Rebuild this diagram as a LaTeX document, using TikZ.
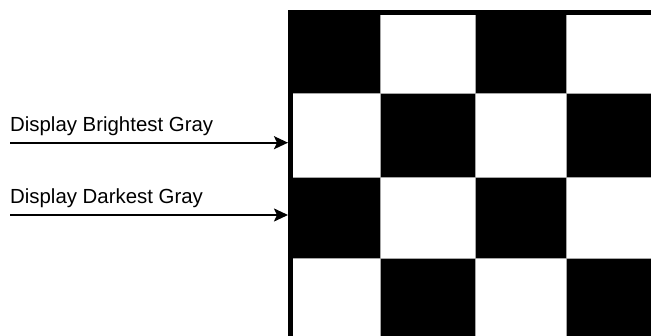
\documentclass[tikz,border=0pt]{standalone}
\usepackage{fontspec}
\setmainfont{Liberation Sans}
\usetikzlibrary{arrows.meta}

\begin{document}
\begin{tikzpicture}[x=1pt, y=-1pt,
  note/.style={anchor=base west, inner sep=0pt, font=\fontsize{20.4}{24}\selectfont},
  pointer/.style={line width=2pt, -{Stealth[length=14pt, width=13pt, inset=3pt]}},
  cell/.style={draw=gray!70, line width=0.8pt}]

\useasboundingbox (0,0) rectangle (651,336);

\begin{scope}
\clip (0,0) rectangle (651,336);
\foreach \i/\ya/\yb in {0/10/93, 1/93/177, 2/177/258, 3/258/345} {
  \foreach \j/\xa/\xb in {0/288/380, 1/380/475, 2/475/566, 3/566/660} {
    \pgfmathtruncatemacro\cellpar{mod(\i+\j,2)}
    \ifnum\cellpar=0 \def\cellcol{black}\else\def\cellcol{white}\fi
    \filldraw[cell, fill=\cellcol] (\xa,\ya) rectangle (\xb,\yb);
  }
}
\draw[line width=5pt] (290.5,345) -- (290.5,12.5) -- (660,12.5);
\end{scope}

\node[note] (bright) at (10,131.7) {Display Brightest Gray};
\node[note] (dark) at (10,203.3) {Display Darkest Gray};

\coordinate (brightStart) at (10,142.7);
\coordinate (brightEnd) at (288,142.7);
\coordinate (darkStart) at (10,215);
\coordinate (darkEnd) at (288,215);

\begin{scope}[pointer]
\draw (brightStart) -- (brightEnd);
\draw (darkStart) -- (darkEnd);
\end{scope}

\end{tikzpicture}
\end{document}
